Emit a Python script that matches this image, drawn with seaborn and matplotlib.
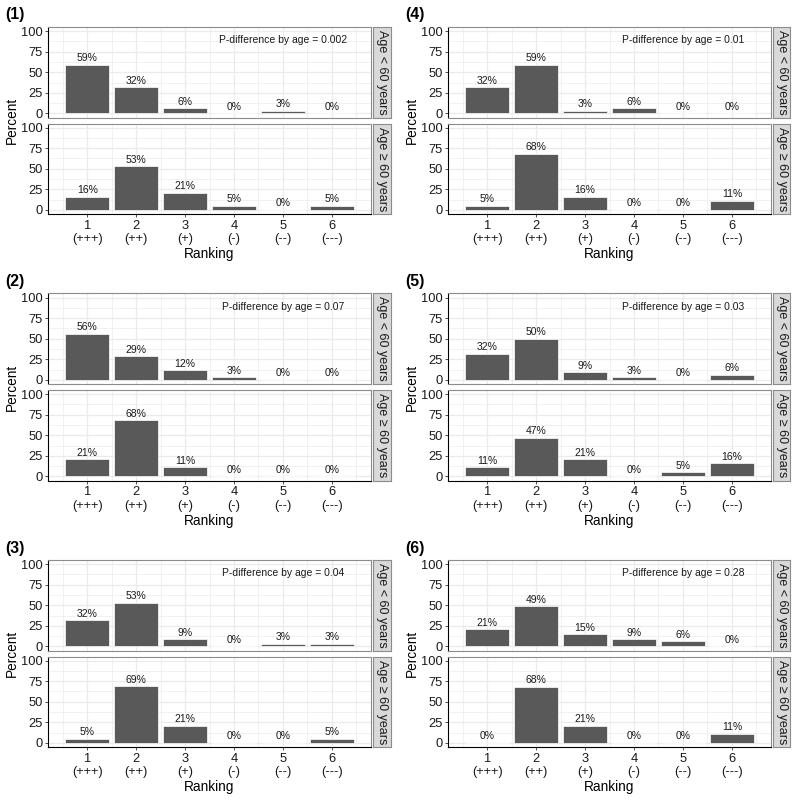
import numpy as np
import matplotlib
matplotlib.use("Agg")
import matplotlib.pyplot as plt
import seaborn as sns
import pandas as pd

# ---- data ----
ranks = ["1", "2", "3", "4", "5", "6"]
rank_labels = ["1\n(+++)", "2\n(++)", "3\n(+)", "4\n(-)", "5\n(--)", "6\n(---)"]
panel_names = ["(1)", "(2)", "(3)", "(4)", "(5)", "(6)"]
age_groups = ["Age < 60 years", "Age \u2265 60 years"]

under60 = [
    [59, 32, 6, 0, 3, 0],
    [56, 29, 12, 3, 0, 0],
    [32, 53, 9, 0, 3, 3],
    [32, 59, 3, 6, 0, 0],
    [32, 50, 9, 3, 0, 6],
    [21, 49, 15, 9, 6, 0],
]
over60 = [
    [16, 53, 21, 5, 0, 5],
    [21, 68, 11, 0, 0, 0],
    [5, 69, 21, 0, 0, 5],
    [5, 68, 16, 0, 0, 11],
    [11, 47, 21, 0, 5, 16],
    [0, 68, 21, 0, 0, 11],
]
p_values = ["0.002", "0.07", "0.04", "0.01", "0.03", "0.28"]

# ---- style ----
sns.set_theme(style="white")
plt.rcParams["font.family"] = ["Liberation Sans", "DejaVu Sans"]

W, H = 800, 800
fig = plt.figure(figsize=(8, 8), dpi=100)


def fx(px):
    return px / W


def fy(py):
    return 1 - py / H


bar_color = "#595959"
grid_color = "#EBEBEB"
border_color = "#8C8C8C"
text_dark = "#1A1A1A"

for k in range(6):
    col = k // 3
    row = k % 3
    x0 = 48 + 400 * col
    x1 = 371 + 400 * col
    yoff = 266.5 * row
    facets = [(27 + yoff, 117.5 + yoff), (123.5 + yoff, 214 + yoff)]
    series = [under60[k], over60[k]]

    for j, ((t, b), vals) in enumerate(zip(facets, series)):
        ax = fig.add_axes([fx(x0), fy(b), fx(x1 - x0), (b - t) / H])
        df = pd.DataFrame({"Ranking": ranks, "Percent": vals})
        sns.barplot(data=df, x="Ranking", y="Percent", order=ranks, color=bar_color,
                    saturation=1, width=0.9, edgecolor="white", linewidth=0.5, ax=ax, zorder=3)
        for i, v in enumerate(vals):
            ax.annotate(f"{v}%", (i, v), xytext=(0, 2.5), textcoords="offset points",
                        ha="center", va="baseline", fontsize=7.5, color=text_dark, zorder=4)
        ax.set_xlim(-0.8, 5.8)
        ax.set_ylim(-5, 105)
        ax.set_yticks([0, 25, 50, 75, 100])
        ax.set_yticks([12.5, 37.5, 62.5, 87.5], minor=True)
        ax.set_xticks(range(6))
        ax.set_xticks(np.arange(-0.5, 6, 1.0), minor=True)
        ax.grid(which="major", color=grid_color, linewidth=0.9, zorder=0)
        ax.grid(which="minor", color=grid_color, linewidth=0.5, zorder=0)
        ax.set_axisbelow(True)
        ax.set_xlabel("")
        ax.set_ylabel("")
        ax.tick_params(axis="y", which="major", left=True, length=2.5, width=0.6, color="#333333",
                       labelsize=9.3, labelcolor=text_dark, pad=1.5)
        ax.tick_params(which="minor", length=0)
        for s in ax.spines.values():
            s.set_color(border_color)
            s.set_linewidth(0.8)
        ax.spines["left"].set_color("black")
        if j == 0:
            ax.tick_params(axis="x", bottom=False, labelbottom=False)
            ax.text(4, 89, f"P-difference by age = {p_values[k]}", ha="center", va="center",
                    fontsize=7.5, color=text_dark)
        else:
            ax.spines["bottom"].set_color("black")
            ax.set_xticklabels(rank_labels)
            ax.tick_params(axis="x", bottom=True, length=2.5, width=0.6, color="#333333",
                           labelsize=9.3, labelcolor=text_dark, pad=1.5)

        # strip
        sax = fig.add_axes([fx(x1 + 1.5), fy(b), fx(18), (b - t) / H])
        sax.set_facecolor("#D9D9D9")
        sax.set_xticks([])
        sax.set_yticks([])
        for s in sax.spines.values():
            s.set_color(border_color)
            s.set_linewidth(0.8)
        sax.text(0.5, 0.5, age_groups[j], rotation=-90, ha="center", va="center",
                 fontsize=9, color=text_dark, transform=sax.transAxes)

    fig.text(fx(12 + 400 * col), fy(120.5 + yoff), "Percent", rotation=90,
             ha="center", va="center", fontsize=9.8, color="black")
    fig.text(fx((x0 + x1) / 2), fy(254 + yoff), "Ranking", ha="center", va="center",
             fontsize=9.8, color="black")
    fig.text(fx(5 + 400 * col), fy(15 + yoff), panel_names[k], ha="left", va="center",
             fontsize=11.4, fontweight="bold", color="black")

fig.savefig("out.png", dpi=100)
